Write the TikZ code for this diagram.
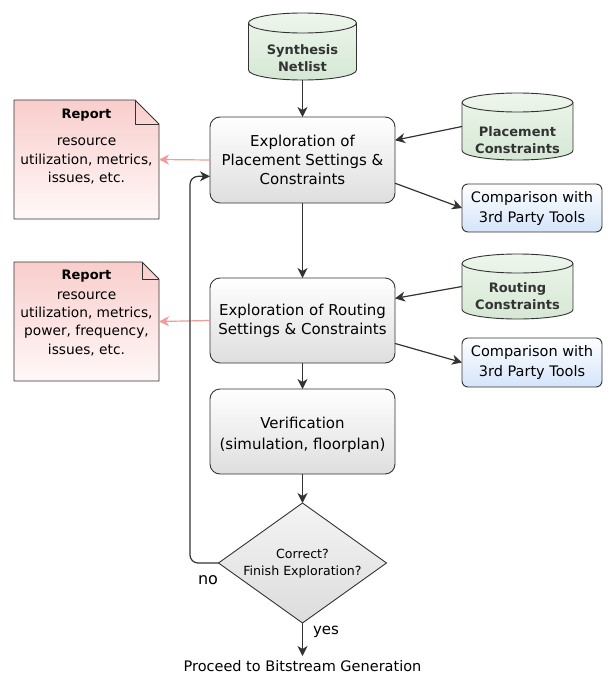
\documentclass[tikz,border=0pt]{standalone}
\usepackage{fontspec}
\setmainfont{DejaVu Sans}
\usetikzlibrary{arrows.meta,shapes.geometric,calc}

\definecolor{linec}{HTML}{333333}
\definecolor{pinkline}{HTML}{F19C99}
\definecolor{greentop}{HTML}{EEF6EC}
\definecolor{greenbot}{HTML}{D5E8D4}
\definecolor{pinktop}{HTML}{F8CECC}
\definecolor{pinkbot}{HTML}{FFF8F8}
\definecolor{bluebot}{HTML}{D4E4FA}
\definecolor{graybot}{HTML}{DEDEDE}
\definecolor{diatop}{HTML}{F4F4F4}
\definecolor{diabot}{HTML}{DCDCDC}

% cylinder outline: cx, top, bottom, x radius, y radius
\newcommand\drawcyl[5]{%
  \path[cylshape] ({#1-#4},{#2+#5}) -- ({#1-#4},{#3-#5})
    arc[start angle=180,end angle=0,x radius=#4,y radius=#5]
    -- ({#1+#4},{#2+#5})
    arc[start angle=0,end angle=-180,x radius=#4,y radius=#5] -- cycle;
  \draw[linec,line width=0.9pt] ({#1-#4},{#2+#5})
    arc[start angle=180,end angle=0,x radius=#4,y radius=#5];
}
% note with folded corner: left, top, right, bottom, fold size
\newcommand\drawnote[5]{%
  \path[noteshape] (#1,#2) -- ({#3-#5},#2) -- (#3,{#2+#5}) -- (#3,#4) -- (#1,#4) -- cycle;
  \draw[linec,line width=0.9pt,line join=round] ({#3-#5},#2) -- ({#3-#5},{#2+#5}) -- (#3,{#2+#5});
}

\begin{document}
\begin{tikzpicture}[x=1pt,y=1pt,yscale=-1,
  every node/.style={inner sep=0pt,outer sep=0pt},
  arr/.style={draw=linec,line width=1.2pt,-{Stealth[length=10pt,width=10pt,inset=3pt]}},
  pinkarr/.style={draw=pinkline,line width=1.2pt,-{Stealth[length=10pt,width=10pt,inset=3pt]}},
  proc/.style={draw=linec,line width=0.9pt,rounded corners=10pt,top color=white,bottom color=graybot,
    minimum width=185pt,align=center,font=\fontsize{15}{19}\selectfont},
  cmpbox/.style={draw=linec,line width=0.9pt,rounded corners=6pt,top color=white,bottom color=bluebot,
    minimum width=140pt,align=center,font=\fontsize{14.5}{20}\selectfont},
  cylshape/.style={draw=linec,line width=0.9pt,top color=greentop,bottom color=greenbot},
  cyltext/.style={align=center,text=linec,font=\bfseries\fontsize{13}{16.5}\selectfont},
  noteshape/.style={draw=linec,line width=0.9pt,line join=round,top color=pinktop,bottom color=pinkbot},
  notetitle/.style={font=\bfseries\fontsize{13}{16}\selectfont},
  notetext/.style={align=center,font=\fontsize{13.75}{18.3}\selectfont},
  plain/.style={font=\fontsize{14.5}{18}\selectfont}
]
\useasboundingbox (0,0) rectangle (609,677);

% data stores
\drawcyl{302.5}{13}{80}{54}{10}
\node[minimum width=108pt,minimum height=67pt] (net) at (302.5,46.5) {};
\node[cyltext] at (302.5,58) {Synthesis\\Netlist};

\drawcyl{517.5}{93}{160}{55.5}{9.5}
\node[minimum width=111pt,minimum height=67pt] (pcon) at (517.5,126.5) {};
\node[cyltext] at (517.5,140) {Placement\\Constraints};

\drawcyl{517.5}{254}{319}{55.5}{9.5}
\node[minimum width=111pt,minimum height=65pt] (rcon) at (517.5,286.5) {};
\node[cyltext] at (517.5,296) {Routing\\Constraints};

% process steps
\node[proc,minimum height=86pt] (place) at (302.5,160) {Exploration of\\Placement Settings \&\\Constraints};
\node[proc,minimum height=85pt] (route) at (302.5,320.5) {Exploration of Routing\\Settings \& Constraints};
\node[proc,minimum height=85pt] (verif) at (302.5,431.5) {};
\node[align=center,font=\fontsize{15}{21}\selectfont] at (302.5,434.5) {Verification\\(simulation, floorplan)};

% decision
\node[diamond,draw=linec,line width=0.9pt,top color=diatop,bottom color=diabot,
  minimum width=168pt,minimum height=120pt] (dec) at (302.5,563) {};
\node[align=center,font=\fontsize{12.6}{17}\selectfont] at (302.5,563.5) {Correct?\\Finish Exploration?};

% comparisons
\node[cmpbox,minimum height=48pt] (cmp1) at (532,208) {Comparison with\\3rd Party Tools};
\node[cmpbox,minimum height=49pt] (cmp2) at (532,362.5) {Comparison with\\3rd Party Tools};

% reports
\drawnote{14}{100}{159}{219}{24}
\node[minimum width=145pt,minimum height=119pt] (rep1) at (86.5,159.5) {};
\node[notetitle] at (86.5,115) {Report};
\node[notetext] at (86.5,161) {resource\\utilization, metrics,\\issues, etc.};

\drawnote{14}{262}{159}{381}{17}
\node[minimum width=145pt,minimum height=119pt] (rep2) at (86.5,321.5) {};
\node[notetitle] at (86.5,276) {Report};
\node[notetext] at (86.5,323.5) {resource\\utilization, metrics,\\power, frequency,\\issues, etc.};

% final step
\node[plain,minimum height=20pt] (out) at (302.5,666) {Proceed to Bitstream Generation};

% main flow
\draw[arr] (net.south) -- (place.north);
\draw[arr] (place.south) -- (route.north);
\draw[arr] (route.south) -- (verif.north);
\draw[arr] (verif.south) -- (dec.north);
\draw[arr] (dec.south) -- (out.north);
\node[font=\fontsize{15}{18}\selectfont] at (326,632) {yes};

% constraint inputs and comparisons
\draw[arr] (pcon.west) -- ($(place.north east)!0.27!(place.south east)$);
\draw[arr] ($(place.north east)!0.77!(place.south east)$) -- (cmp1.west);
\draw[arr] (rcon.west) -- ($(route.north east)!0.24!(route.south east)$);
\draw[arr] ($(route.north east)!0.77!(route.south east)$) -- (cmp2.west);

% reports
\draw[pinkarr] (place.west) -- (rep1.east);
\draw[pinkarr] (route.west) -- (rep2.east);

% feedback loop
\coordinate (loopin) at ($(place.north west)!0.69!(place.south west)$);
\draw[arr,rounded corners=8pt] (dec.west) -| ([xshift=-20pt]loopin) -- (loopin);
\node[font=\fontsize{16}{18}\selectfont] at (208,580) {no};
\end{tikzpicture}
\end{document}
